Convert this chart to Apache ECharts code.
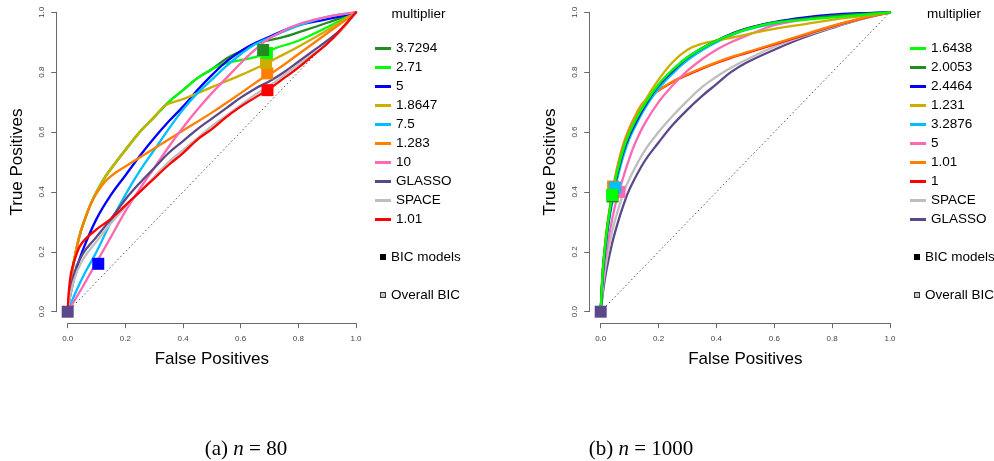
<!DOCTYPE html>
<html><head><meta charset="utf-8">
<script src="https://cdn.jsdelivr.net/npm/echarts@6/dist/echarts.min.js"></script>
<style>html,body{margin:0;padding:0;background:#fff}#c{width:994px;height:461px}</style>
</head><body><div id="c"></div>
<script>
// ---------- Panel (a) n = 80 : ROC curves [false positive rate, true positive rate] ----------
const A_37294 = [[0,0],[0.01,0.1],[0.02,0.16],[0.04,0.25],[0.06,0.31],[0.08,0.36],[0.1,0.4],[0.13,0.45],[0.16,0.49],[0.2,0.54],[0.25,0.6],[0.3,0.65],[0.35,0.7],[0.4,0.74],[0.45,0.78],[0.5,0.81],[0.55,0.845],[0.6,0.87],[0.65,0.895],[0.7,0.907],[0.75,0.918],[0.8,0.933],[0.9,0.965],[1,1]];
const A_271   = [[0,0],[0.01,0.1],[0.02,0.16],[0.04,0.25],[0.06,0.31],[0.08,0.36],[0.1,0.4],[0.13,0.45],[0.16,0.49],[0.2,0.54],[0.25,0.6],[0.3,0.65],[0.35,0.7],[0.4,0.74],[0.45,0.78],[0.5,0.81],[0.55,0.83],[0.6,0.84],[0.65,0.85],[0.69,0.865],[0.72,0.88],[0.8,0.905],[0.9,0.95],[1,1]];
const A_5     = [[0,0],[0.01,0.06],[0.03,0.14],[0.05,0.2],[0.1,0.31],[0.15,0.39],[0.2,0.455],[0.25,0.52],[0.3,0.58],[0.35,0.635],[0.4,0.685],[0.45,0.74],[0.5,0.79],[0.55,0.835],[0.6,0.87],[0.65,0.897],[0.7,0.918],[0.75,0.94],[0.8,0.957],[0.9,0.977],[1,1]];
const A_18647 = [[0,0],[0.01,0.1],[0.02,0.16],[0.04,0.25],[0.06,0.31],[0.08,0.36],[0.1,0.4],[0.13,0.45],[0.16,0.49],[0.2,0.54],[0.25,0.6],[0.3,0.65],[0.34,0.69],[0.4,0.71],[0.5,0.75],[0.6,0.79],[0.69,0.83],[0.72,0.845],[0.8,0.885],[0.9,0.94],[1,1]];
const A_75    = [[0,0],[0.03,0.07],[0.06,0.13],[0.1,0.2],[0.15,0.3],[0.2,0.39],[0.25,0.47],[0.3,0.54],[0.35,0.61],[0.4,0.675],[0.45,0.73],[0.5,0.775],[0.55,0.82],[0.6,0.86],[0.65,0.893],[0.7,0.915],[0.8,0.955],[0.9,0.985],[1,1]];
const A_1283  = [[0,0],[0.01,0.1],[0.02,0.16],[0.04,0.25],[0.06,0.31],[0.08,0.36],[0.1,0.395],[0.13,0.435],[0.16,0.46],[0.2,0.485],[0.25,0.515],[0.3,0.545],[0.35,0.575],[0.4,0.605],[0.5,0.665],[0.6,0.73],[0.69,0.79],[0.72,0.805],[0.8,0.86],[0.9,0.93],[1,1]];
const A_10    = [[0,0],[0.05,0.08],[0.1,0.165],[0.15,0.25],[0.2,0.335],[0.25,0.41],[0.3,0.48],[0.35,0.55],[0.4,0.615],[0.45,0.675],[0.5,0.73],[0.55,0.78],[0.6,0.83],[0.65,0.875],[0.7,0.913],[0.8,0.96],[0.9,0.985],[1,1]];
const A_GLASSO= [[0,0],[0.02,0.12],[0.05,0.19],[0.1,0.25],[0.15,0.31],[0.2,0.375],[0.25,0.43],[0.3,0.48],[0.35,0.53],[0.4,0.57],[0.45,0.61],[0.5,0.645],[0.55,0.68],[0.6,0.715],[0.65,0.745],[0.7,0.77],[0.75,0.8],[0.8,0.835],[0.85,0.87],[0.9,0.905],[0.95,0.945],[1,1]];
const A_SPACE = [[0,0],[0.02,0.1],[0.05,0.17],[0.1,0.235],[0.15,0.295],[0.2,0.35],[0.25,0.4],[0.3,0.45],[0.35,0.5],[0.4,0.54],[0.45,0.58],[0.5,0.62],[0.55,0.655],[0.6,0.69],[0.65,0.725],[0.7,0.755],[0.75,0.79],[0.8,0.825],[0.85,0.86],[0.9,0.895],[0.95,0.94],[1,1]];
const A_101   = [[0,0],[0.01,0.12],[0.03,0.19],[0.05,0.23],[0.1,0.275],[0.15,0.31],[0.2,0.355],[0.25,0.4],[0.3,0.445],[0.35,0.49],[0.4,0.53],[0.45,0.575],[0.5,0.61],[0.55,0.65],[0.6,0.685],[0.65,0.715],[0.7,0.745],[0.75,0.78],[0.8,0.815],[0.85,0.855],[0.9,0.895],[0.95,0.945],[1,1]];
const namesA  = ['3.7294','2.71','5','1.8647','7.5','1.283','10','GLASSO','SPACE','1.01'];
const curvesA = [A_37294, A_271, A_5, A_18647, A_75, A_1283, A_10, A_GLASSO, A_SPACE, A_101];
// BIC-selected models, panel (a)
const bicA_names = ['1.01','1.283','1.8647','2.71','3.7294','5','GLASSO'];
const bicA_fp    = [0.693, 0.692, 0.688, 0.691, 0.678, 0.106, 0];
const bicA_tp    = [0.74, 0.796, 0.832, 0.864, 0.874, 0.16, 0];

// ---------- Panel (b) n = 1000 ----------
const B_16438 = [[0,0],[0.005,0.1],[0.01,0.17],[0.02,0.26],[0.03,0.33],[0.04,0.39],[0.05,0.44],[0.06,0.48],[0.08,0.55],[0.1,0.6],[0.12,0.64],[0.15,0.69],[0.2,0.76],[0.25,0.81],[0.3,0.85],[0.35,0.88],[0.4,0.905],[0.45,0.925],[0.5,0.942],[0.55,0.955],[0.6,0.965],[0.7,0.975],[0.8,0.983],[0.9,0.991],[1,1]];
const B_20053 = [[0,0],[0.005,0.1],[0.01,0.17],[0.02,0.26],[0.03,0.33],[0.04,0.385],[0.05,0.435],[0.06,0.475],[0.08,0.545],[0.1,0.595],[0.12,0.638],[0.15,0.688],[0.2,0.758],[0.25,0.808],[0.3,0.85],[0.35,0.88],[0.4,0.905],[0.45,0.926],[0.5,0.943],[0.55,0.956],[0.6,0.966],[0.7,0.978],[0.8,0.988],[0.9,0.995],[1,1]];
const B_24464 = [[0,0],[0.005,0.09],[0.01,0.16],[0.02,0.25],[0.03,0.32],[0.04,0.38],[0.05,0.43],[0.06,0.47],[0.08,0.54],[0.1,0.59],[0.12,0.63],[0.15,0.683],[0.2,0.755],[0.25,0.805],[0.3,0.848],[0.35,0.88],[0.4,0.905],[0.45,0.927],[0.5,0.945],[0.6,0.967],[0.7,0.982],[0.8,0.992],[0.9,0.997],[1,1]];
const B_1231  = [[0,0],[0.005,0.1],[0.01,0.17],[0.02,0.26],[0.03,0.33],[0.04,0.39],[0.05,0.44],[0.06,0.48],[0.08,0.55],[0.1,0.6],[0.12,0.645],[0.15,0.7],[0.2,0.775],[0.25,0.835],[0.3,0.875],[0.35,0.895],[0.4,0.905],[0.45,0.915],[0.5,0.925],[0.6,0.945],[0.7,0.96],[0.8,0.975],[0.9,0.987],[1,1]];
const B_32876 = [[0,0],[0.005,0.09],[0.01,0.15],[0.02,0.24],[0.03,0.31],[0.04,0.365],[0.05,0.415],[0.06,0.455],[0.08,0.525],[0.1,0.58],[0.12,0.62],[0.15,0.675],[0.2,0.745],[0.25,0.797],[0.3,0.84],[0.35,0.873],[0.4,0.9],[0.45,0.922],[0.5,0.94],[0.6,0.963],[0.7,0.978],[0.8,0.99],[0.9,0.996],[1,1]];
const B_5     = [[0,0],[0.005,0.08],[0.01,0.13],[0.02,0.2],[0.03,0.26],[0.04,0.31],[0.05,0.355],[0.06,0.39],[0.08,0.455],[0.1,0.515],[0.12,0.565],[0.15,0.625],[0.2,0.7],[0.25,0.757],[0.3,0.805],[0.35,0.843],[0.4,0.875],[0.45,0.9],[0.5,0.92],[0.55,0.94],[0.6,0.957],[0.7,0.975],[0.8,0.987],[0.9,0.995],[1,1]];
const B_101   = [[0,0],[0.005,0.1],[0.01,0.17],[0.02,0.27],[0.03,0.34],[0.04,0.4],[0.05,0.45],[0.06,0.495],[0.08,0.565],[0.1,0.615],[0.12,0.655],[0.14,0.69],[0.16,0.71],[0.2,0.74],[0.25,0.77],[0.3,0.793],[0.35,0.814],[0.4,0.833],[0.45,0.85],[0.5,0.865],[0.55,0.88],[0.6,0.895],[0.7,0.925],[0.8,0.955],[0.9,0.98],[1,1]];
const B_1     = [[0,0],[0.005,0.1],[0.01,0.17],[0.02,0.26],[0.03,0.33],[0.04,0.39],[0.05,0.44],[0.06,0.48],[0.08,0.55],[0.1,0.6],[0.12,0.64],[0.15,0.69],[0.18,0.725],[0.21,0.745],[0.25,0.768],[0.3,0.791],[0.35,0.812],[0.4,0.831],[0.45,0.848],[0.5,0.863],[0.55,0.878],[0.6,0.893],[0.7,0.923],[0.8,0.953],[0.9,0.979],[1,1]];
const B_SPACE = [[0,0],[0.01,0.1],[0.02,0.17],[0.04,0.27],[0.06,0.34],[0.08,0.4],[0.1,0.445],[0.15,0.535],[0.2,0.6],[0.25,0.655],[0.3,0.705],[0.35,0.75],[0.4,0.785],[0.45,0.815],[0.5,0.84],[0.6,0.885],[0.7,0.92],[0.8,0.95],[0.9,0.977],[1,1]];
const B_GLASSO= [[0,0],[0.01,0.08],[0.02,0.14],[0.04,0.23],[0.06,0.3],[0.08,0.36],[0.1,0.41],[0.15,0.5],[0.2,0.565],[0.25,0.625],[0.3,0.675],[0.35,0.72],[0.4,0.76],[0.45,0.8],[0.5,0.83],[0.6,0.875],[0.7,0.915],[0.8,0.948],[0.9,0.977],[1,1]];
const namesB  = ['1.6438','2.0053','2.4464','1.231','3.2876','5','1.01','1','SPACE','GLASSO'];
const curvesB = [B_16438, B_20053, B_24464, B_1231, B_32876, B_5, B_101, B_1, B_SPACE, B_GLASSO];
const bicB_names = ['5','1.01','3.2876','2.0053','1.6438','GLASSO'];
const bicB_fp    = [0.065, 0.043, 0.05, 0.041, 0.04, 0];
const bicB_tp    = [0.40, 0.418, 0.415, 0.385, 0.39, 0];

// ---------- styles ----------
const colorsA = {'3.7294':'#228B22','2.71':'#00FF00','5':'#0000FF','1.8647':'#CDAD00','7.5':'#00BFFF','1.283':'#FF7F00','10':'#FF69B4','GLASSO':'#5D478B','SPACE':'#BEBEBE','1.01':'#FF0000'};
const colorsB = {'1.6438':'#00FF00','2.0053':'#228B22','2.4464':'#0000FF','1.231':'#CDAD00','3.2876':'#00BFFF','5':'#FF69B4','1.01':'#FF7F00','1':'#FF0000','SPACE':'#BEBEBE','GLASSO':'#5D478B'};
const FONT = 'Liberation Sans, Arial, Helvetica, sans-serif';
const SERIF = 'Liberation Serif, Times New Roman, serif';

function axisX(gi){
  return {type:'value', gridIndex:gi, min:0, max:1, interval:0.2, offset:11.5,
    axisLine:{show:true, onZero:false, lineStyle:{color:'#6a6a6a', width:1}},
    axisTick:{show:true, length:5, lineStyle:{color:'#6a6a6a'}},
    axisLabel:{fontSize:8, color:'#444', margin:12, fontFamily:FONT, formatter:v=>v.toFixed(1), showMinLabel:true, showMaxLabel:true},
    splitLine:{show:false},
    name:'False Positives', nameLocation:'middle', nameGap:28,
    nameTextStyle:{fontSize:17, color:'#000', fontFamily:FONT}};
}
function axisY(gi){
  return {type:'value', gridIndex:gi, min:0, max:1, interval:0.2, offset:11.5,
    axisLine:{show:true, onZero:false, lineStyle:{color:'#6a6a6a', width:1}},
    axisTick:{show:true, length:5, lineStyle:{color:'#6a6a6a'}},
    axisLabel:{fontSize:8, color:'#444', margin:10, rotate:90, fontFamily:FONT, formatter:v=>v.toFixed(1), showMinLabel:true, showMaxLabel:true},
    splitLine:{show:false},
    name:'True Positives', nameLocation:'middle', nameGap:30, nameRotate:90,
    nameTextStyle:{fontSize:17, color:'#000', fontFamily:FONT}};
}

const series = [];
function addPanel(prefix, gi, names, curves, colors, bicNames, bicFp, bicTp, reverse){
  series.push({type:'line', name:prefix+'diag', xAxisIndex:gi, yAxisIndex:gi, data:[[0,0],[1,1]],
    symbol:'none', silent:true, lineStyle:{color:'#555', width:1, type:[1.5,2.5]}, z:1});
  const order = names.map((n,i)=>i);
  if (reverse) order.reverse();
  order.forEach(i=>{
    const c = colors[names[i]];
    series.push({type:'line', name:prefix+names[i], xAxisIndex:gi, yAxisIndex:gi, data:curves[i],
      symbol:'none', smooth:0.4, silent:true, clip:false,
      lineStyle:{color:c, width:2.3, join:'round', cap:'round'}, itemStyle:{color:c}, z:2});
  });
  series.push({type:'scatter', name:prefix+'BIC models', xAxisIndex:gi, yAxisIndex:gi, symbol:'rect', symbolSize:12,
    silent:true, clip:false, z:3, itemStyle:{color:'#000', opacity:1},
    data: bicNames.map((n,i)=>({value:[bicFp[i], bicTp[i]], itemStyle:{color:colors[n]}}))});
  series.push({type:'scatter', name:prefix+'Overall BIC', xAxisIndex:gi, yAxisIndex:gi, data:[], silent:true, itemStyle:{color:'#000'}});
}
addPanel('A|', 0, namesA, curvesA, colorsA, bicA_names, bicA_fp, bicA_tp, false);
addPanel('B|', 1, namesB, curvesB, colorsB, bicB_names, bicB_fp, bicB_tp, true);

const strip = n => n.split('|')[1];
const overallIcon = 'path://M0,0H10V10H0ZM2,2V8H8V2ZM4,4H6V6H4Z';
function lineLegend(prefix, names, left){
  return {orient:'vertical', left:left, top:41.5, itemWidth:16, itemHeight:3, itemGap:5, itemTextGap:3,
    icon:'rect', selectedMode:false, formatter:strip, padding:0,
    textStyle:{fontSize:13.5, lineHeight:14, color:'#000', fontFamily:FONT},
    data:names.map(n=>prefix+n)};
}
function bicLegend(prefix, left){
  return {orient:'vertical', left:left, top:250, itemWidth:6, itemHeight:6, itemGap:24, itemTextGap:2,
    selectedMode:false, formatter:strip, padding:0,
    textStyle:{fontSize:13.5, lineHeight:14, color:'#000', fontFamily:FONT},
    data:[{name:prefix+'BIC models', icon:'rect', itemStyle:{color:'#000'}},
          {name:prefix+'Overall BIC', icon:overallIcon, itemStyle:{color:'#000'}}]};
}

function txt(x, y, text, size){
  return {type:'text', x:x, y:y, silent:true,
    style:{text:text, fontSize:size, fontFamily:FONT, fill:'#000', align:'center', verticalAlign:'middle', textAlign:'center', textVerticalAlign:'middle'}};
}
function caption(x, y, label, nval){
  return {type:'text', x:x, y:y, silent:true,
    style:{text:'{r|'+label+' }{i|n}{r| = '+nval+'}', fill:'#000', align:'center', verticalAlign:'middle', textAlign:'center', textVerticalAlign:'middle',
      rich:{r:{fontFamily:SERIF, fontSize:21, fill:'#000'}, i:{fontFamily:SERIF, fontSize:21, fontStyle:'italic', fill:'#000'}}}};
}

const chart = echarts.init(document.getElementById('c'), null, {renderer:'canvas'});
chart.setOption({
  animation:false,
  backgroundColor:'#fff',
  grid:[{left:67.7, top:12.3, width:288.3, height:299.4},
        {left:600.7, top:12.3, width:289.3, height:299.4}],
  xAxis:[axisX(0), axisX(1)],
  yAxis:[axisY(0), axisY(1)],
  legend:[lineLegend('A|', namesA, 375), bicLegend('A|', 380),
          lineLegend('B|', namesB, 910), bicLegend('B|', 914)],
  graphic:[txt(418.5, 14, 'multiplier', 13.5), txt(954, 14, 'multiplier', 13.5),
           caption(246, 449, '(a)', '80'), caption(641, 449, '(b)', '1000')],
  series:series
});
</script></body></html>
